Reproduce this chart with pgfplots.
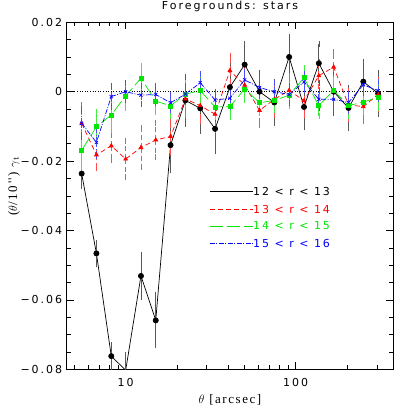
\documentclass[border=0pt]{standalone}
\usepackage{fontspec}
\usepackage{pgfplots}
\pgfplotsset{compat=1.18}
\newfontfamily\hsans{DejaVu Sans}[LetterSpace=18]
\newfontfamily\hserif{Liberation Serif}[LetterSpace=12]
\newcommand\hs{\hsans\fontsize{11bp}{13bp}\selectfont}
\newcommand\hr{\hserif\fontsize{13bp}{15bp}\selectfont}
\definecolor{pr}{RGB}{255,0,0}
\definecolor{pg}{RGB}{0,230,0}
\definecolor{pb}{RGB}{0,0,255}

\begin{document}
\begin{tikzpicture}
\begin{axis}[
    scale only axis,
    width=326.6bp, height=347bp,
    xmode=log,
    xmin=4.5, xmax=375,
    ymin=-0.08, ymax=0.02,
    xtick={10,100}, xticklabels={10,100},
    minor xtick={5,6,7,8,9,20,30,40,50,60,70,80,90,200,300},
    ytick={-0.08,-0.06,-0.04,-0.02,0,0.02},
    yticklabels={−0.08,−0.06,−0.04,−0.02,0,0.02},
    minor y tick num=3,
    scaled ticks=false,
    tick label style={font=\hs},
    xticklabel style={anchor=base, yshift=-17.4bp},
    yticklabel style={anchor=east, xshift=-1bp},
    major tick length=7bp, minor tick length=4bp,
    tick style={black, line width=0.6bp},
    axis line style={line width=0.8bp},
    title={Foregrounds: stars},
    title style={font=\hs, at={(axis description cs:0.5,1)}, anchor=base, yshift=7bp, inner sep=0pt},
    xlabel={$\theta$ [arcsec]},
    xlabel style={font=\hr, at={(axis description cs:0.5,0)}, anchor=base, yshift=-33.7bp, inner sep=0pt},
    ylabel={($\theta$/10'') $\gamma_{\rm t}$},
    ylabel style={font=\hr, at={(axis description cs:-0.1614,0.528)}, anchor=center, inner sep=0pt},
]

\addplot[black, dotted, line width=0.6bp] coordinates {(4.5,0) (375,0)};

% key: short lines inside the axis
\addplot[color=black, line width=0.9bp] coordinates {(31.33,-0.02882) (56.08,-0.02882)};
\addplot[color=pr, line width=0.9bp, dash pattern=on 5bp off 3bp] coordinates {(31.33,-0.03389) (56.08,-0.03389)};
\addplot[color=pg, line width=0.9bp, dash pattern=on 13bp off 4bp] coordinates {(31.33,-0.03870) (56.08,-0.03870)};
\addplot[color=pb, line width=0.9bp, dash pattern=on 5bp off 1.5bp on 1bp off 1.5bp] coordinates {(31.33,-0.04380) (56.08,-0.04380)};

% 12 < r < 13
\addplot[draw=black, line width=0.7bp, mark=*, mark size=2.6bp, mark options={solid, fill=black},
    error bars/y dir=both, error bars/y explicit,
    error bars/error bar style={black!65, line width=0.7bp},
    error bars/error mark options={black!65, mark size=3bp, line width=0.7bp}]
coordinates {
(5.51,-0.0236) +- (0,0.0037)
(6.73,-0.0466) +- (0,0.0031)
(8.23,-0.0762) +- (0,0.0032)
(10.0,-0.0803) +- (0,0.0045)
(12.30,-0.0531) +- (0,0.0060)
(15.03,-0.0659) +- (0,0.0072)
(18.37,-0.0154) +- (0,0.0073)
(22.45,-0.0025) +- (0,0.0068)
(27.45,-0.0048) +- (0,0.0065)
(33.56,-0.0107) +- (0,0.0064)
(41.02,0.0013) +- (0,0.0062)
(50.1,0.0078) +- (0,0.0060)
(61.3,0.0000) +- (0,0.0055)
(74.9,-0.0031) +- (0,0.0058)
(91.5,0.0100) +- (0,0.0059)
(111.9,-0.0044) +- (0,0.0058)
(136.8,0.0082) +- (0,0.0056)
(167.2,0.0000) +- (0,0.0060)
(204.4,-0.0047) +- (0,0.0058)
(249.8,0.0029) +- (0,0.0057)
(305.3,-0.0005) +- (0,0.0058)
};

% 13 < r < 14
\addplot[draw=pr, line width=0.7bp, dash pattern=on 5bp off 3bp, mark=triangle*, mark size=2.2bp, mark options={solid, fill=pr},
    error bars/y dir=both, error bars/y explicit,
    error bars/error bar style={pr!70, line width=0.7bp, dash pattern=on 5bp off 3bp},
    error bars/error mark options={pr!70, mark size=3bp, line width=0.7bp, solid}]
coordinates {
(5.51,-0.0091) +- (0,0.0053)
(6.73,-0.0182) +- (0,0.0038)
(8.23,-0.0156) +- (0,0.0040)
(10.0,-0.0194) +- (0,0.0052)
(12.30,-0.0161) +- (0,0.0056)
(15.03,-0.0139) +- (0,0.0050)
(18.37,-0.0129) +- (0,0.0045)
(22.45,-0.0021) +- (0,0.0046)
(27.45,-0.0040) +- (0,0.0045)
(33.56,-0.0065) +- (0,0.0045)
(41.02,0.0061) +- (0,0.0043)
(50.1,0.0019) +- (0,0.0043)
(61.3,-0.0054) +- (0,0.0042)
(74.9,-0.0022) +- (0,0.0044)
(91.5,0.0004) +- (0,0.0042)
(111.9,-0.0026) +- (0,0.0041)
(136.8,0.0046) +- (0,0.0041)
(167.2,0.0071) +- (0,0.0042)
(204.4,-0.0038) +- (0,0.0041)
(249.8,-0.0043) +- (0,0.0040)
(305.3,-0.0008) +- (0,0.0043)
};

% 14 < r < 15
\addplot[draw=pg, line width=0.7bp, dash pattern=on 13bp off 4bp, mark=square*, mark size=2bp, mark options={solid, fill=pg},
    error bars/y dir=both, error bars/y explicit,
    error bars/error bar style={pg!75, line width=0.7bp, solid},
    error bars/error mark options={pg!75, mark size=3bp, line width=0.7bp, solid}]
coordinates {
(5.51,-0.0169) +- (0,0.0053)
(6.73,-0.0101) +- (0,0.0043)
(8.23,-0.0067) +- (0,0.0043)
(10.0,-0.0012) +- (0,0.0036)
(12.30,0.0039) +- (0,0.0034)
(15.03,-0.0027) +- (0,0.0031)
(18.37,-0.0041) +- (0,0.0030)
(22.45,-0.0007) +- (0,0.0031)
(27.45,0.0003) +- (0,0.0030)
(33.56,-0.0044) +- (0,0.0028)
(41.02,-0.0043) +- (0,0.0030)
(50.1,0.0008) +- (0,0.0031)
(61.3,-0.0032) +- (0,0.0030)
(74.9,-0.0025) +- (0,0.0028)
(91.5,-0.0010) +- (0,0.0030)
(111.9,0.0040) +- (0,0.0028)
(136.8,-0.0040) +- (0,0.0029)
(167.2,0.0004) +- (0,0.0029)
(204.4,-0.0040) +- (0,0.0029)
(249.8,-0.0030) +- (0,0.0029)
(305.3,-0.0016) +- (0,0.0030)
};

% 15 < r < 16
\addplot[draw=pb, line width=0.7bp, dash pattern=on 5bp off 1.5bp on 1bp off 1.5bp, mark=x, mark size=2.2bp, mark options={solid},
    error bars/y dir=both, error bars/y explicit,
    error bars/error bar style={pb!70, line width=0.7bp, dash pattern=on 5bp off 1.5bp on 1bp off 1.5bp},
    error bars/error mark options={pb!70, mark size=3bp, line width=0.7bp, solid}]
coordinates {
(5.51,-0.0091) +- (0,0.0040)
(6.73,-0.0146) +- (0,0.0038)
(8.23,-0.0014) +- (0,0.0030)
(10.0,0.0000) +- (0,0.0025)
(12.30,-0.0010) +- (0,0.0025)
(15.03,-0.0008) +- (0,0.0024)
(18.37,-0.0032) +- (0,0.0022)
(22.45,-0.0007) +- (0,0.0023)
(27.45,0.0026) +- (0,0.0024)
(33.56,-0.0024) +- (0,0.0023)
(41.02,-0.0019) +- (0,0.0024)
(50.1,0.0034) +- (0,0.0024)
(61.3,0.0012) +- (0,0.0024)
(74.9,0.0000) +- (0,0.0024)
(91.5,-0.0008) +- (0,0.0024)
(111.9,0.0028) +- (0,0.0024)
(136.8,-0.0022) +- (0,0.0024)
(167.2,-0.0022) +- (0,0.0024)
(204.4,-0.0031) +- (0,0.0024)
(249.8,0.0020) +- (0,0.0024)
(305.3,0.0003) +- (0,0.0024)
};

\node[anchor=west, inner sep=0pt, font=\hs, text=black] at (axis cs:56.08,-0.02882) {12 < r < 13};
\node[anchor=west, inner sep=0pt, font=\hs, text=pr] at (axis cs:56.08,-0.03389) {13 < r < 14};
\node[anchor=west, inner sep=0pt, font=\hs, text=pg] at (axis cs:56.08,-0.03870) {14 < r < 15};
\node[anchor=west, inner sep=0pt, font=\hs, text=pb] at (axis cs:56.08,-0.04380) {15 < r < 16};
\end{axis}
\pgfresetboundingbox
\path[use as bounding box] (-66.7bp,-45.7bp) rectangle (348.3bp,369.3bp);
\end{tikzpicture}
\end{document}
